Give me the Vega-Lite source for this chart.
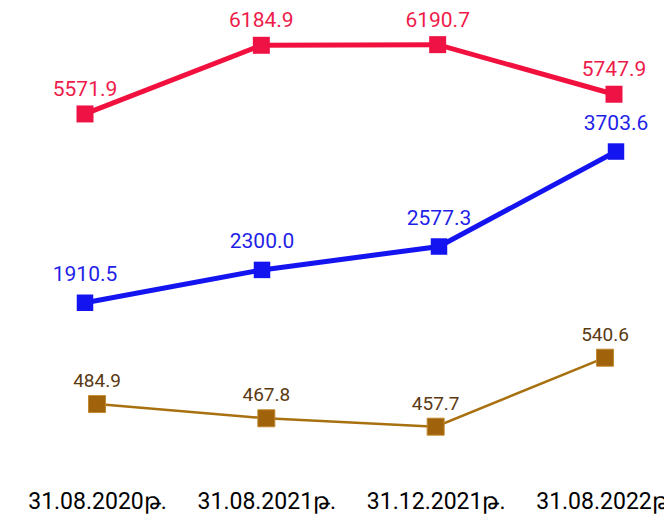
{
  "$schema": "https://vega.github.io/schema/vega-lite/v6.json",
  "width": 664,
  "height": 480,
  "autosize": {"type": "none"},
  "padding": {"left": 0, "top": 0, "right": 0, "bottom": 42},
  "background": "white",
  "config": {"view": {"stroke": null}, "font": "Roboto, Noto Sans"},
  "data": {
    "values": [
      {"date": "31.08.2020թ.", "series": "red", "value": 5571.9},
      {"date": "31.08.2021թ.", "series": "red", "value": 6184.9},
      {"date": "31.12.2021թ.", "series": "red", "value": 6190.7},
      {"date": "31.08.2022թ.", "series": "red", "value": 5747.9},
      {"date": "31.08.2020թ.", "series": "blue", "value": 1910.5},
      {"date": "31.08.2021թ.", "series": "blue", "value": 2300.0},
      {"date": "31.12.2021թ.", "series": "blue", "value": 2577.3},
      {"date": "31.08.2022թ.", "series": "blue", "value": 3703.6},
      {"date": "31.08.2020թ.", "series": "brown", "value": 484.9},
      {"date": "31.08.2021թ.", "series": "brown", "value": 467.8},
      {"date": "31.12.2021թ.", "series": "brown", "value": 457.7},
      {"date": "31.08.2022թ.", "series": "brown", "value": 540.6}
    ]
  },
  "layer": [
    {
      "transform": [{"filter": "datum.series === 'red'"}],
      "encoding": {
        "x": {"field": "date", "type": "ordinal", "sort": null, "scale": {"type": "point", "padding": 0, "range": [85, 614]}, "axis": null},
        "y": {"field": "value", "type": "quantitative", "scale": {"domain": [2303.6, 6589.3], "zero": false, "nice": false}, "axis": null}
      },
      "layer": [
        {"mark": {"type": "line", "color": "#F2103E", "strokeWidth": 5}},
        {"mark": {"type": "point", "shape": "square", "filled": true, "opacity": 1, "size": 289, "color": "#EE1245"}},
        {"mark": {"type": "text", "baseline": "alphabetic", "dy": -18, "fontSize": 21, "color": "#EE1B4A"},
         "encoding": {"text": {"field": "value", "type": "quantitative", "format": ".1f"}}}
      ]
    },
    {
      "transform": [{"filter": "datum.series === 'blue'"}],
      "encoding": {
        "x": {"field": "date", "type": "ordinal", "sort": null, "scale": {"type": "point", "padding": 0, "range": [85, 616]}, "axis": null},
        "y": {"field": "value", "type": "quantitative", "scale": {"domain": [-191.4, 5500.6], "zero": false, "nice": false}, "axis": null}
      },
      "layer": [
        {"mark": {"type": "line", "color": "#1414F0", "strokeWidth": 5}},
        {"mark": {"type": "point", "shape": "square", "filled": true, "opacity": 1, "size": 272, "color": "#1414F0"}},
        {"mark": {"type": "text", "baseline": "alphabetic", "dy": -22, "fontSize": 21, "color": "#1F1FE8"},
         "encoding": {"text": {"field": "value", "type": "quantitative", "format": ".1f"}}}
      ]
    },
    {
      "transform": [{"filter": "datum.series === 'brown'"}],
      "encoding": {
        "x": {"field": "date", "type": "ordinal", "sort": null, "scale": {"type": "point", "padding": 0, "range": [97, 605]},
          "axis": {"orient": "bottom", "title": null, "domain": false, "ticks": false, "tickSize": 0, "grid": false,
            "labelFontSize": 23, "labelColor": "#000000", "labelAngle": 0, "labelBaseline": "alphabetic",
            "labelPadding": 28, "labelOverlap": false, "labelFlush": false, "labelBound": false, "labelFont": "Roboto, Noto Sans"}},
        "y": {"field": "value", "type": "quantitative", "scale": {"domain": [393.6, 970.6], "zero": false, "nice": false}, "axis": null}
      },
      "layer": [
        {"mark": {"type": "line", "color": "#A8700F", "strokeWidth": 2.5}},
        {"mark": {"type": "point", "shape": "square", "filled": true, "opacity": 1, "size": 289, "color": "#A0620A", "stroke": "#C08A30", "strokeWidth": 1}},
        {"mark": {"type": "text", "baseline": "alphabetic", "dy": -17, "fontSize": 19, "color": "#5A3A12"},
         "encoding": {"text": {"field": "value", "type": "quantitative", "format": ".1f"}}}
      ]
    }
  ],
  "resolve": {"scale": {"x": "independent", "y": "independent"}}
}
